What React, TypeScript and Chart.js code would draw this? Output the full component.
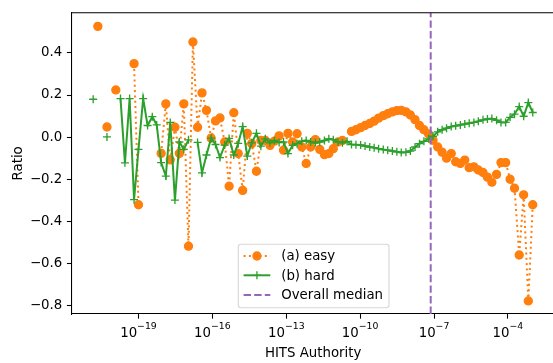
import React, { useEffect, useRef } from "react";
import { Chart, registerables } from "chart.js";

Chart.register(...registerables);

// log10 of the HITS Authority bin centres
const binExponent = [
  -20.84, -20.65, -20.47, -20.28, -20.10, -19.92, -19.73, -19.55, -19.36, -19.18,
  -19.00, -18.81, -18.63, -18.44, -18.26, -18.08, -17.89, -17.71, -17.52, -17.34,
  -17.16, -16.97, -16.79, -16.60, -16.42, -16.24, -16.05, -15.87, -15.69, -15.50,
  -15.32, -15.13, -14.95, -14.77, -14.58, -14.40, -14.21, -14.03, -13.85, -13.66,
  -13.48, -13.29, -13.11, -12.93, -12.74, -12.56, -12.37, -12.19, -12.01, -11.82,
  -11.64, -11.45, -11.27, -11.09, -10.90, -10.72, -10.53, -10.35, -10.17, -9.98,
  -9.80, -9.61, -9.43, -9.25, -9.06, -8.88, -8.69, -8.51, -8.33, -8.14,
  -7.96, -7.77, -7.59, -7.41, -7.22, -7.04, -6.85, -6.67, -6.49, -6.30,
  -6.12, -5.93, -5.75, -5.57, -5.38, -5.20, -5.01, -4.83, -4.65, -4.46,
  -4.28, -4.09, -3.91, -3.73, -3.54, -3.36, -3.17, -2.99,
];

// (a) easy — ratio per bin (null = empty bin)
const easyRatio = [
  null, 0.526, null, 0.048, null, 0.224, null, null, null, 0.349,
  -0.321, null, null, null, null, -0.077, 0.158, -0.108, 0.047, -0.077,
  0.158, -0.518, 0.452, 0.047, 0.21, 0.127, -0.005, 0.077, 0.091, -0.023,
  -0.233, 0.116, -0.078, -0.253, 0.018, -0.031, -0.162, -0.016, -0.016, -0.039,
  -0.019, 0.006, -0.062, 0.018, -0.023, 0.016, -0.047, -0.125, -0.047, -0.012,
  -0.058, -0.083, -0.078, -0.055, -0.023, -0.016, null, 0.027, 0.035, 0.045,
  0.055, 0.065, 0.076, 0.09, 0.102, 0.111, 0.12, 0.126, 0.127, 0.12,
  0.105, 0.083, 0.055, 0.035, 0.015, -0.015, -0.047, -0.072, -0.1, -0.078,
  -0.117, -0.125, -0.109, -0.145, -0.141, -0.156, -0.168, -0.19, -0.214, -0.177,
  -0.121, -0.121, -0.2, -0.243, -0.56, -0.274, -0.778, -0.321,
];

// (b) hard — ratio per bin (null = empty bin)
const hardRatio = [
  0.18, null, null, 0.001, null, null, 0.183, -0.122, 0.183, -0.297,
  -0.058, 0.183, 0.055, 0.097, 0.058, -0.121, -0.185, 0.07, -0.299, -0.023,
  -0.058, -0.013, null, -0.025, -0.17, -0.085, -0.005, -0.035, -0.097, -0.038,
  -0.006, -0.085, -0.03, 0.05, -0.09, -0.027, 0.018, -0.043, -0.008, -0.027,
  -0.016, -0.025, -0.023, -0.078, -0.039, -0.031, -0.02, -0.016, -0.023, -0.027,
  -0.023, -0.016, -0.008, -0.012, -0.023, -0.027, -0.02, -0.035, -0.036, -0.037,
  -0.042, -0.047, -0.05, -0.055, -0.059, -0.062, -0.066, -0.07, -0.073, -0.072,
  -0.066, -0.047, -0.031, -0.02, -0.008, 0.004, 0.025, 0.035, 0.042, 0.05,
  0.054, 0.058, 0.062, 0.066, 0.07, 0.075, 0.082, 0.086, 0.088, 0.08,
  0.07, 0.07, 0.094, 0.109, 0.145, 0.099, 0.164, 0.117,
];

const medianExponent = -7.134;
const xTickExponents = [-19, -16, -13, -10, -7, -4];
const yTickValues = [-0.8, -0.6, -0.4, -0.2, 0.0, 0.2, 0.4];
const xRangeExponent = [-21.716, -2.1];
const yRange = [-0.84, 0.591];
const legendLabels = ["(a) easy", "(b) hard", "Overall median"];

const FAMILY = '"DejaVu Sans", sans-serif';
const FS = 13.33;
const SUP_FS = 9.33;
const SPINE = 1.07;
const TICK_LEN = 4.67;
const ORANGE = "#ff7f0e";
const GREEN = "#2ca02c";
const PURPLE = "#9467bd";
const CANVAS_W = 560;
const CANVAS_H = 363;

const fmtTick = (v: number) => (v < 0 ? "\u2212" : "") + Math.abs(v).toFixed(1);

function drawCross(ctx: CanvasRenderingContext2D, x: number, y: number, r: number) {
  ctx.beginPath();
  ctx.moveTo(x - r, y);
  ctx.lineTo(x + r, y);
  ctx.moveTo(x, y - r);
  ctx.lineTo(x, y + r);
  ctx.stroke();
}

const decorations = {
  id: "decorations",
  afterDraw(chart: any) {
    const ctx: CanvasRenderingContext2D = chart.ctx;
    const { left, right, top, bottom } = chart.chartArea;
    const xs = chart.scales.x;
    ctx.save();

    // top and right spines
    ctx.strokeStyle = "#000";
    ctx.lineWidth = SPINE;
    ctx.setLineDash([]);
    ctx.beginPath();
    ctx.moveTo(left, top);
    ctx.lineTo(right, top);
    ctx.lineTo(right, bottom);
    ctx.stroke();

    // x tick labels: 10 with superscript exponent
    ctx.fillStyle = "#000";
    ctx.textAlign = "left";
    ctx.textBaseline = "alphabetic";
    for (const e of xTickExponents) {
      const px = xs.getPixelForValue(10 ** e);
      const base = "10";
      const sup = (e < 0 ? "\u2212" : "") + Math.abs(e);
      ctx.font = `${FS}px ${FAMILY}`;
      const wb = ctx.measureText(base).width;
      ctx.font = `${SUP_FS}px ${FAMILY}`;
      const ws = ctx.measureText(sup).width;
      const x0 = px - (wb + ws) / 2;
      ctx.font = `${FS}px ${FAMILY}`;
      ctx.fillText(base, x0, 336.5);
      ctx.font = `${SUP_FS}px ${FAMILY}`;
      ctx.fillText(sup, x0 + wb, 328.5);
    }

    // axis titles
    ctx.font = `${FS}px ${FAMILY}`;
    ctx.textAlign = "center";
    ctx.fillText("HITS Authority", (left + right) / 2, 357);
    ctx.save();
    ctx.translate(21.7, (top + bottom) / 2);
    ctx.rotate(-Math.PI / 2);
    ctx.fillText("Ratio", 0, 0);
    ctx.restore();

    // legend
    const bx = 238.3, by = 244.3, bw = 150.7, bh = 63.4, rr = 2.7;
    ctx.beginPath();
    ctx.moveTo(bx + rr, by);
    ctx.lineTo(bx + bw - rr, by);
    ctx.arcTo(bx + bw, by, bx + bw, by + rr, rr);
    ctx.lineTo(bx + bw, by + bh - rr);
    ctx.arcTo(bx + bw, by + bh, bx + bw - rr, by + bh, rr);
    ctx.lineTo(bx + rr, by + bh);
    ctx.arcTo(bx, by + bh, bx, by + bh - rr, rr);
    ctx.lineTo(bx, by + rr);
    ctx.arcTo(bx, by, bx + rr, by, rr);
    ctx.closePath();
    ctx.fillStyle = "rgba(255,255,255,0.8)";
    ctx.fill();
    ctx.strokeStyle = "rgba(204,204,204,0.8)";
    ctx.lineWidth = SPINE;
    ctx.stroke();

    const hx0 = 243.6, hx1 = 270.3, hmid = (hx0 + hx1) / 2, tx = 281.2;
    const rows = [256, 275.3, 295];

    // (a) easy handle
    ctx.lineCap = "butt";
    ctx.strokeStyle = ORANGE;
    ctx.lineWidth = 2;
    ctx.setLineDash([2, 3.3]);
    ctx.beginPath();
    ctx.moveTo(hx0, rows[0]);
    ctx.lineTo(hx1, rows[0]);
    ctx.stroke();
    ctx.setLineDash([]);
    ctx.fillStyle = ORANGE;
    ctx.lineWidth = 1.33;
    ctx.beginPath();
    ctx.arc(hmid, rows[0], 4, 0, Math.PI * 2);
    ctx.fill();
    ctx.stroke();

    // (b) hard handle
    ctx.strokeStyle = GREEN;
    ctx.lineWidth = 2;
    ctx.beginPath();
    ctx.moveTo(hx0, rows[1]);
    ctx.lineTo(hx1, rows[1]);
    ctx.stroke();
    ctx.lineWidth = 1.33;
    drawCross(ctx, hmid, rows[1], 4);

    // median handle
    ctx.strokeStyle = PURPLE;
    ctx.lineWidth = 2;
    ctx.setLineDash([7.4, 3.2]);
    ctx.beginPath();
    ctx.moveTo(hx0, rows[2]);
    ctx.lineTo(hx1, rows[2]);
    ctx.stroke();
    ctx.setLineDash([]);

    ctx.fillStyle = "#000";
    ctx.textAlign = "left";
    ctx.font = `${FS}px ${FAMILY}`;
    legendLabels.forEach((t, i) => ctx.fillText(t, tx, rows[i] + 4.2));

    ctx.restore();
  },
};

export default function App() {
  const ref = useRef<HTMLCanvasElement>(null);

  useEffect(() => {
    const canvas = ref.current;
    if (!canvas) return;

    const easyPoints = binExponent.map((e, i) => ({ x: 10 ** e, y: easyRatio[i] }));
    const hardPoints = binExponent.map((e, i) => ({ x: 10 ** e, y: hardRatio[i] }));
    const medianPoints = [
      { x: 10 ** medianExponent, y: yRange[0] },
      { x: 10 ** medianExponent, y: yRange[1] },
    ];

    const chart = new Chart(canvas, {
      type: "line",
      data: {
        datasets: [
          {
            label: legendLabels[0],
            data: easyPoints as any,
            order: 3,
            borderColor: ORANGE,
            backgroundColor: ORANGE,
            borderWidth: 2,
            borderDash: [2, 3.3],
            borderCapStyle: "butt",
            pointStyle: "circle",
            pointRadius: 4,
            pointBorderWidth: 1.33,
            pointBackgroundColor: ORANGE,
            pointBorderColor: ORANGE,
            tension: 0,
            spanGaps: false,
            fill: false,
          },
          {
            label: legendLabels[1],
            data: hardPoints as any,
            order: 2,
            borderColor: GREEN,
            backgroundColor: GREEN,
            borderWidth: 2,
            pointStyle: "cross",
            pointRadius: 4,
            pointBorderWidth: 1.33,
            pointBorderColor: GREEN,
            tension: 0,
            spanGaps: false,
            fill: false,
          },
          {
            label: legendLabels[2],
            data: medianPoints as any,
            order: 1,
            borderColor: PURPLE,
            borderWidth: 2,
            borderDash: [7.4, 3.2],
            borderCapStyle: "butt",
            pointRadius: 0,
            tension: 0,
            fill: false,
          },
        ],
      },
      options: {
        responsive: false,
        maintainAspectRatio: false,
        animation: false,
        devicePixelRatio: 1,
        events: [],
        layout: { padding: { left: 0, top: 9, right: CANVAS_W - 555.5, bottom: 0 } },
        plugins: {
          legend: { display: false },
          tooltip: { enabled: false },
          title: { display: false },
        },
        scales: {
          x: {
            type: "logarithmic",
            min: 10 ** xRangeExponent[0],
            max: 10 ** xRangeExponent[1],
            afterFit(scale: any) {
              scale.height = CANVAS_H - 314;
            },
            afterBuildTicks(scale: any) {
              scale.ticks = xTickExponents.map((e) => ({ value: 10 ** e }));
            },
            ticks: { autoSkip: false, maxRotation: 0, callback: () => "" },
            grid: {
              drawOnChartArea: false,
              drawTicks: true,
              tickLength: TICK_LEN,
              tickWidth: SPINE,
              tickColor: "#000",
            },
            border: { display: true, color: "#000", width: SPINE },
          },
          y: {
            type: "linear",
            min: yRange[0],
            max: yRange[1],
            afterFit(scale: any) {
              scale.width = 71.6;
            },
            afterBuildTicks(scale: any) {
              scale.ticks = yTickValues.map((v) => ({ value: v }));
            },
            ticks: {
              autoSkip: false,
              color: "#000",
              padding: TICK_LEN,
              font: { family: FAMILY, size: FS },
              callback: (v: any) => fmtTick(Number(v)),
            },
            grid: {
              drawOnChartArea: false,
              drawTicks: true,
              tickLength: TICK_LEN,
              tickWidth: SPINE,
              tickColor: "#000",
            },
            border: { display: true, color: "#000", width: SPINE },
          },
        },
      },
      plugins: [decorations],
    } as any);

    return () => chart.destroy();
  }, []);

  return (
    <div
      style={{
        position: "absolute",
        left: 0,
        top: 0,
        width: 553,
        height: CANVAS_H,
        overflow: "hidden",
        background: "#fff",
      }}
    >
      <canvas
        ref={ref}
        width={CANVAS_W}
        height={CANVAS_H}
        style={{ display: "block", width: CANVAS_W, height: CANVAS_H }}
      />
    </div>
  );
}
